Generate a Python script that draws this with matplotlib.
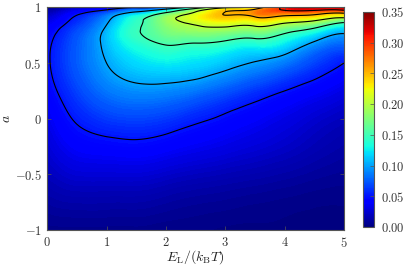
import matplotlib
matplotlib.use("Agg")
import matplotlib.pyplot as plt
import matplotlib.tri as mtri
import numpy as np
from matplotlib.ticker import FuncFormatter

plt.rcParams['mathtext.fontset'] = 'cm'
plt.rcParams['font.family'] = 'DejaVu Serif'

# grid of E_L/(k_B T) values (columns) and a values (rows)
energia = [0.0, 0.5, 1.0, 1.5, 2.0, 2.5, 3.0, 3.5, 4.0, 4.5, 5.0]
a_vals = [-1.0, -0.6, -0.2, 0.2, 0.5, 0.7, 0.8, 0.88, 0.93, 0.96, 0.98, 1.0]

# one list per E column, value for each a in a_vals
col_00 = [0.004, 0.015, 0.027, 0.040, 0.047, 0.045, 0.040, 0.030, 0.020, 0.014, 0.008, 0.000]
col_05 = [0.004, 0.020, 0.042, 0.063, 0.075, 0.074, 0.068, 0.058, 0.050, 0.040, 0.030, 0.015]
col_10 = [0.004, 0.020, 0.047, 0.080, 0.100, 0.108, 0.105, 0.095, 0.083, 0.065, 0.048, 0.025]
col_15 = [0.004, 0.020, 0.049, 0.087, 0.118, 0.140, 0.147, 0.142, 0.125, 0.100, 0.080, 0.045]
col_20 = [0.003, 0.017, 0.045, 0.085, 0.125, 0.158, 0.175, 0.185, 0.175, 0.140, 0.110, 0.060]
col_25 = [0.003, 0.014, 0.039, 0.077, 0.120, 0.156, 0.188, 0.214, 0.218, 0.200, 0.175, 0.120]
col_30 = [0.002, 0.012, 0.034, 0.066, 0.110, 0.150, 0.188, 0.230, 0.250, 0.250, 0.235, 0.190]
col_35 = [0.002, 0.010, 0.029, 0.055, 0.098, 0.143, 0.184, 0.228, 0.260, 0.270, 0.255, 0.220]
col_40 = [0.002, 0.008, 0.024, 0.045, 0.085, 0.130, 0.165, 0.215, 0.255, 0.285, 0.305, 0.310]
col_45 = [0.001, 0.006, 0.018, 0.036, 0.066, 0.102, 0.142, 0.200, 0.246, 0.280, 0.310, 0.325]
col_50 = [0.001, 0.005, 0.013, 0.028, 0.050, 0.085, 0.112, 0.165, 0.230, 0.270, 0.310, 0.330]

niveles = [0.05, 0.10, 0.15, 0.20, 0.25, 0.30]
ticks_cb = [0.0, 0.05, 0.10, 0.15, 0.20, 0.25, 0.30, 0.35]

columnas = [col_00, col_05, col_10, col_15, col_20, col_25, col_30, col_35, col_40, col_45, col_50]
Z = np.array(columnas).T
E, A = np.meshgrid(energia, a_vals)

tri = mtri.Triangulation(E.ravel(), A.ravel())
refiner = mtri.UniformTriRefiner(tri)
interp = mtri.CubicTriInterpolator(tri, Z.ravel(), kind='min_E')
tri_f, z_f = refiner.refine_field(Z.ravel(), triinterpolator=interp, subdiv=4)

fig = plt.figure(figsize=(4.07, 2.65), dpi=100)
ax = fig.add_axes([0.116, 0.132, 0.729, 0.840])
cax = fig.add_axes([0.892, 0.143, 0.027, 0.812])

mapa = ax.tricontourf(tri_f, z_f, levels=np.linspace(0, 0.35, 141), cmap='jet',
                      vmin=0, vmax=0.35, extend='both')
ax.tricontour(tri_f, z_f, levels=niveles, colors='black', linewidths=0.8)
ax.set_xlim(0, 5)
ax.set_ylim(-1, 1)

fmt = FuncFormatter(lambda v, p: r'$%g$' % v)
ax.xaxis.set_major_formatter(fmt)
ax.yaxis.set_major_formatter(fmt)
ax.set_xticks([0, 1, 2, 3, 4, 5])
ax.set_yticks([-1, -0.5, 0, 0.5, 1])
ax.tick_params(direction='in', length=3, width=0.5, labelsize=9, top=True, right=True,
               colors='#555555', labelcolor='#333333', pad=4)
for s in ax.spines.values():
    s.set_color('#555555')
ax.set_xlabel(r'$E_{\mathrm{L}}/(k_{\mathrm{B}}T)$', fontsize=10, labelpad=-1, color='#222222')
ax.set_ylabel(r'$a$', fontsize=10, labelpad=1, color='#222222')

sm = plt.cm.ScalarMappable(cmap='jet', norm=plt.Normalize(0, 0.35))
cb = fig.colorbar(sm, cax=cax, ticks=ticks_cb)
cb.ax.yaxis.set_major_formatter(FuncFormatter(lambda v, p: r'$%.2f$' % v))
cb.ax.tick_params(direction='in', length=3, width=0.5, labelsize=9, colors='#555555',
                  labelcolor='#333333', pad=5)
cb.outline.set_edgecolor('#555555')

fig.savefig('out.png', dpi=100)
